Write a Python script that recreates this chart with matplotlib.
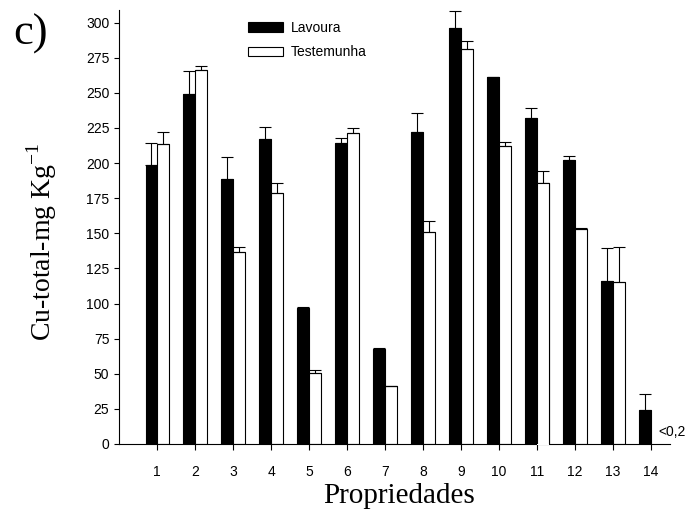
import matplotlib.pyplot as plt
import numpy as np

# Cu-total por propriedade
propriedades = np.arange(1, 15)
lavoura = [199, 249.5, 189, 217.5, 97, 214.5, 67.5, 222, 296, 261.5, 232, 202, 116, 24]
lavoura_err = [15, 16, 15.5, 8.5, 0.5, 3.5, 1.2, 14, 12.5, 0, 7, 3, 23.5, 11.5]
testemunha = [213.5, 266.5, 137, 178.5, 50.5, 221.5, 41, 151, 281.5, 212, 186, 153, 115.5, np.nan]
testemunha_err = [9, 2.5, 3, 7, 2, 3.5, 0, 8, 5.5, 3, 8.5, 1, 25, 0]
yticks = np.arange(0, 301, 25)

sans = 'Liberation Sans'
serif = 'Liberation Serif'
w = 0.31
lw = 0.8

fig = plt.figure(figsize=(6.94, 5.14), dpi=100)
ax = fig.add_axes([0.1719, 0.1362, 0.7935, 0.8443])

xl = propriedades - w / 2
xt = propriedades + w / 2
ax.bar(xl, lavoura, w, color='black', edgecolor='black', linewidth=lw, label='Lavoura', zorder=2)
ax.errorbar(xl, lavoura, yerr=[np.zeros(14), lavoura_err], fmt='none', ecolor='black',
            elinewidth=lw, capsize=4.3, capthick=lw, zorder=3)

tm = np.array(testemunha)
te = np.array(testemunha_err)
ok = ~np.isnan(tm)
ax.bar(xt[ok], tm[ok], w, color='white', edgecolor='black', linewidth=lw, label='Testemunha', zorder=2)
ax.errorbar(xt[ok], tm[ok], yerr=[np.zeros(ok.sum()), te[ok]], fmt='none', ecolor='black',
            elinewidth=lw, capsize=4.3, capthick=lw, zorder=3)

# bar 11 (testemunha) hides the axis line in the original
i = 10
ax.bar(xt[i], tm[i] + 1, w, bottom=-1, color='white', edgecolor='none', zorder=3, clip_on=False)
x0, x1 = xt[i] - w / 2, xt[i] + w / 2
ax.plot([x0, x0, x1, x1], [0, tm[i], tm[i], 0], color='black', lw=lw, zorder=4)

ax.text(14.19, 8.8, '<0,2', fontsize=10, family=sans, ha='left', va='center')

ax.set_xlim(0, 14.5)
ax.set_ylim(0, 309)
ax.set_xticks(propriedades)
ax.set_yticks(yticks)
ax.set_xticklabels([str(p) for p in propriedades], fontsize=10, family=sans)
ax.set_yticklabels([str(t) for t in yticks], fontsize=10, family=sans)
ax.tick_params(axis='x', direction='out', length=4.3, width=lw, pad=11)
ax.tick_params(axis='y', direction='out', length=3.6, width=lw, pad=3.6)
for s in ['top', 'right']:
    ax.spines[s].set_visible(False)
for s in ['left', 'bottom']:
    ax.spines[s].set_linewidth(lw)

ax.set_xlabel('Propriedades', fontsize=21, family=serif)
ax.set_ylabel('Cu-total-mg Kg$^{\\mathregular{-1}}$', fontsize=20, family=serif)
ax.xaxis.set_label_coords(0.508, -0.09)
ax.yaxis.set_label_coords(-0.11, 0.465)

ax.legend(loc='upper left', bbox_to_anchor=(0.2337, 0.975), frameon=False, borderpad=0,
          borderaxespad=0, prop={'family': sans, 'size': 10}, handlelength=2.5,
          handleheight=0.65, handletextpad=0.6, labelspacing=0.75)

fig.text(13 / 694, (514 - 45) / 514, 'c)', fontsize=32, family=serif, ha='left', va='baseline')

fig.savefig('out.png', dpi=100)
